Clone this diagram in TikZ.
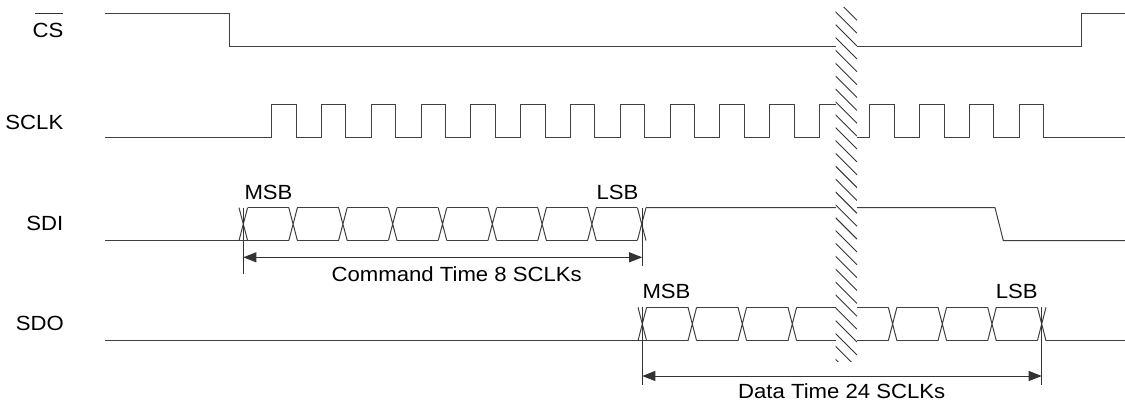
\documentclass[tikz,border=0pt]{standalone}
\usepackage{fontspec}
\setmainfont{Liberation Sans}[FakeStretch=1.08]
\usetikzlibrary{arrows.meta}
\begin{document}
\begin{tikzpicture}[x=1pt,y=-1pt,
  wave/.style={line width=1pt, draw=black!75, line join=miter},
  dimline/.style={line width=1pt, draw=black!80},
  dimarrow/.style={line width=1pt, draw=black!80, {Triangle[length=13pt,width=10pt]}-{Triangle[length=13pt,width=10pt]}},
  hatchline/.style={line width=0.9pt, draw=black!80},
  lbl/.style={font=\fontsize{20.5}{24}\selectfont, inner sep=0pt, text=black},
]
\useasboundingbox (0,0) rectangle (1125,405);

% signal names
\node[lbl,anchor=east] (cs) at (63.5,30.8) {CS};
\draw[line width=1pt, black!80] (35,13.3) -- (63.3,13.3);
\node[lbl,anchor=east] (sclk) at (63.5,122.8) {SCLK};
\node[lbl,anchor=east] (sdi) at (63.5,223.3) {SDI};
\node[lbl,anchor=east] (sdo) at (64,323.3) {SDO};

% CS
\draw[wave] (105,13.3) -- (229,13.3) -- (229,46.7) -- (1081.7,46.7) -- (1081.7,13.3) -- (1125,13.3);

% SCLK
\draw[wave] (105,137.7)
  foreach \k in {0,...,10} { -- ({271.7+49.8*\k},137.7) -- ({271.7+49.8*\k},104.3) -- ({296.1+49.8*\k},104.3) -- ({296.1+49.8*\k},137.7) }
  -- (819.5,137.7) -- (819.5,104.3) -- (846,104.3) -- (846,137.7)
  foreach \j in {0,...,3} { -- ({869.3+49.9*\j},137.7) -- ({869.3+49.9*\j},104.3) -- ({894.1+49.9*\j},104.3) -- ({894.1+49.9*\j},137.7) }
  -- (1125,137.7);

% SDI
\draw[wave] (105,240.5) -- (268,240.5);
\foreach \k in {0,...,8} {
  \draw[wave] ({243.3+49.8*\k-4.3},207.7) -- ({243.3+49.8*\k+4.3},240.5)
              ({243.3+49.8*\k-4.3},240.5) -- ({243.3+49.8*\k+4.3},207.7);
}
\foreach \k in {0,...,7} {
  \draw[wave] ({243.3+49.8*\k+4.3},207.7) -- ({243.3+49.8*(\k+1)-4.3},207.7)
              ({243.3+49.8*\k+4.3},240.5) -- ({243.3+49.8*(\k+1)-4.3},240.5);
}
\draw[wave] (646,207.7) -- (995,207.7) -- (1003.3,240.5) -- (1125,240.5);

% SDO
\draw[wave] (105,340.7) -- (667,340.7);
\foreach \b in {642.3,692.3,742.3,792.3,892.6,942.3,992,1041.7} {
  \draw[wave] ({\b-4.3},307.3) -- ({\b+4.3},340.7) ({\b-4.3},340.7) -- ({\b+4.3},307.3);
}
\foreach \a/\b in {642.3/692.3,692.3/742.3,742.3/792.3,792.3/892.6,892.6/942.3,942.3/992,992/1041.7} {
  \draw[wave] ({\a+4.3},307.3) -- ({\b-4.3},307.3) ({\a+4.3},340.7) -- ({\b-4.3},340.7);
}
\draw[wave] (1046,340.7) -- (1125,340.7);

% break band
\fill[white] (835.5,7) rectangle (857,361);
\begin{scope}
  \clip (835.5,7) rectangle (857,361);
  \foreach \k in {-1,...,28} \draw[hatchline] (835.5,{11.7+12.87*\k}) -- ++(21.5,21.5);
\end{scope}

% command time dimension
\coordinate (ca1) at (243.3,208);
\coordinate (ca2) at (243.3,274);
\coordinate (cb1) at (642.2,208);
\coordinate (cb2) at (642.2,266);
\coordinate (cmdL) at (243.3,257.3);
\coordinate (cmdR) at (642.2,257.3);
\draw[dimline] (ca1) -- (ca2);
\draw[dimline] (cb1) -- (cb2);
\draw[dimarrow] (cmdL) -- (cmdR);

% data time dimension
\coordinate (da1) at (642.3,307);
\coordinate (da2) at (642.3,385);
\coordinate (db1) at (1041.7,307);
\coordinate (db2) at (1041.7,385);
\coordinate (datL) at (642.3,376);
\coordinate (datR) at (1041.7,376);
\draw[dimline] (da1) -- (da2);
\draw[dimline] (db1) -- (db2);
\draw[dimarrow] (datL) -- (datR);

% labels
\node[lbl] (msb1) at (268.5,192.2) {MSB};
\node[lbl] (lsb1) at (617.5,192.2) {LSB};
\node[lbl] (cmd) at (456.7,274.2) {Command Time 8 SCLKs};
\node[lbl] (msb2) at (666.5,291.7) {MSB};
\node[lbl] (lsb2) at (1016.7,291.7) {LSB};
\node[lbl] (dat) at (841.7,390.8) {Data Time 24 SCLKs};
\end{tikzpicture}
\end{document}
